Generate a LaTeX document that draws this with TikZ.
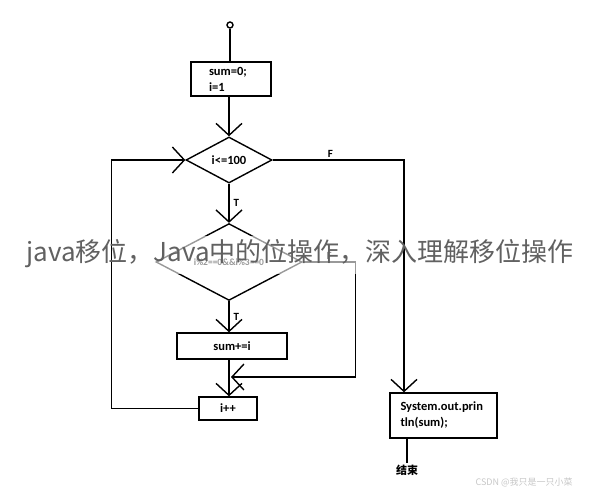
\documentclass[tikz,border=0pt]{standalone}
\usepackage{fontspec}
\setmainfont{Carlito}
\newfontfamily\cjk{Noto Sans CJK SC}
\usetikzlibrary{arrows.meta,shapes.geometric,positioning}

\tikzset{
  plain/.style={line width=1.4pt},
  flowline/.style={plain, -{Straight Barb[length=12pt,width=26pt]}},
  procbox/.style={draw, plain, inner sep=0pt, font=\bfseries\fontsize{12.5}{16}\selectfont},
  testbox/.style={draw, plain, diamond, inner sep=0pt, font=\bfseries\fontsize{12.5}{14}\selectfont},
  lbl/.style={font=\bfseries\fontsize{11}{12}\selectfont, inner sep=2pt}
}

\begin{document}
\begin{tikzpicture}[x=1pt,y=-1pt]
\useasboundingbox (0,0) rectangle (598,490);
% shapes of the chart
\node[draw, plain, circle, inner sep=0pt, minimum size=6pt] (start) at (230,25) {};
\node[procbox, minimum width=80pt, minimum height=34pt, text width=44pt, xshift=4pt, align=left] (init) at (227,79) {sum=0;\\i=1};
\node[testbox, minimum width=86pt, minimum height=46pt] (cond) at (229,160) {i<=100};
\node[testbox, minimum width=146pt, minimum height=70pt, font=\bfseries\fontsize{9.5}{10}\selectfont] (rem) at (229,262) {i\%2==0\&\&i\%3==0};
\node[procbox, minimum width=110pt, minimum height=26pt] (add) at (232,346) {sum+=i};
\node[procbox, minimum width=58pt, minimum height=23pt] (inc) at (228,408.5) {i++};
\node[procbox, minimum width=107pt, minimum height=45pt, text width=86pt, align=left] (print) at (443.5,415.5) {System.out.prin\\tln(sum);};
\node[font=\cjk\bfseries\fontsize{11}{12}\selectfont, inner sep=2pt] (end) at (407,470) {结束};
\coordinate (join) at (231,377);
\coordinate (fcorner) at (404,160);
% connectors
\draw[plain] (start.south) -- (start.south |- init.north);
\draw[flowline] (init.south -| cond) -- (cond.north);
\draw[flowline] (cond.south) -- node[lbl, right, xshift=2pt] {T} (rem.north);
\draw[flowline] (rem.south) -- node[lbl, right, xshift=2pt] {T} (rem.south |- add.north);
\draw[flowline] (rem.south |- add.south) -- (rem.south |- inc.north);
\draw[flowline] (rem.east) -- node[lbl, above] {F} ++(53,0) |- (join);
\draw[flowline] (inc.west) -- ++(-87,0) |- (cond.west);
\draw[flowline] (cond.east) -- node[lbl, above, pos=0.44] {F} (fcorner) -- (fcorner |- print.north);
\draw[plain] (end.north |- print.south) -- (end.north);
% title laid over the chart
\fill[white, opacity=0.6] (116,236) rectangle (360,274);
\node[font=\cjk\fontsize{26}{26}\selectfont, text=black!62] (title) at (300,254) {java移位，Java中的位操作，深入理解移位操作};
\node[font=\cjk\fontsize{9}{9}\selectfont, text=black!22, anchor=west] (mark) at (472,482) {CSDN @我只是一只小菜};
\end{tikzpicture}
\end{document}
